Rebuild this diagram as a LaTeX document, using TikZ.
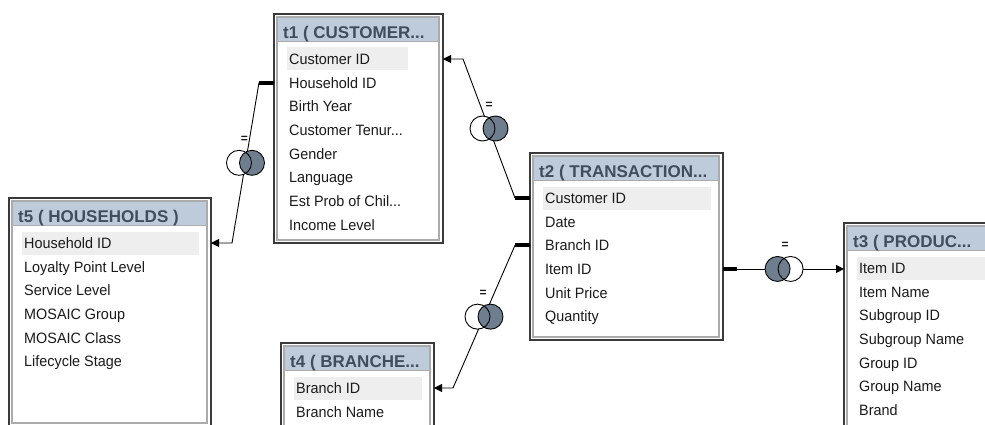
\documentclass[tikz,border=0pt]{standalone}
\usepackage{fontspec}
\setmainfont{Liberation Sans}
\newfontfamily\rowfont[FakeStretch=0.96]{Liberation Sans}
\usetikzlibrary{arrows.meta,calc}

\definecolor{framedark}{HTML}{3A3A3A}
\definecolor{framelight}{HTML}{ABABAB}
\definecolor{titlebg}{HTML}{BDCBDA}
\definecolor{titleink}{HTML}{3F4D5C}
\definecolor{rowhl}{HTML}{EEEEEE}
\definecolor{rowink}{HTML}{1A1A1A}
\definecolor{joinfill}{HTML}{6E7E8F}

% truncation mark for clipped names
\newcommand{\trail}{...}

\tikzset{
  tableframe/.style={rectangle, draw=framedark, line width=1.3pt, fill=white,
    inner sep=0pt, outer sep=0pt},
  titletext/.style={inner sep=0pt, text=titleink,
    font=\bfseries\fontsize{17}{20}\selectfont},
  rowtext/.style={inner sep=0pt, text=rowink,
    font=\rowfont\fontsize{15}{18}\selectfont},
  stub/.style={line width=4pt, black},
  link/.style={line width=0.9pt, black},
  linkarrow/.style={link, -{Triangle[length=8pt,width=8pt]}},
  eqlabel/.style={inner sep=0pt, text=black!90,
    font=\bfseries\fontsize{12}{12}\selectfont},
}

% table: id, left, top, right, bottom, highlight right edge, title, rows
\newcommand{\dbtable}[8]{%
  \node[tableframe, anchor=north west, minimum width={#4-#2},
        minimum height={#5-#3}] (#1) at (#2,#3) {};
  \draw[framelight, line width=1.5pt, fill=white] (#2+3,#3+3) rectangle (#4-4,#5-3);
  \fill[titlebg] (#2+3.8,#3+3.8) rectangle (#4-4.8,#3+27);
  \draw[framelight, line width=0.8pt] (#2+3,#3+27) -- (#4-4,#3+27);
  \fill[rowhl] (#2+12.5,#3+33.5) rectangle (#6,#3+56.5);
  \node[titletext, anchor=base west] (#1-title) at (#2+9,#3+24.2) {#7};
  \foreach \r [count=\i] in {#8} {
    \coordinate (#1-w\i) at (#2,{#3+45+23.65*(\i-1)});
    \coordinate (#1-e\i) at (#4,{#3+45+23.65*(\i-1)});
    \node[rowtext, anchor=base west] (#1-row\i) at (#2+15,{#3+50.5+23.65*(\i-1)}) {\r};
  }%
}

% join symbol: centre coordinate, side of the shaded circle (1 right, -1 left)
\newcommand{\joinicon}[2]{%
  \begin{scope}[shift={(#1)}]
    \fill[white] (-6.5*#2,0) circle[radius=12.5pt];
    \fill[joinfill] (6.5*#2,0) circle[radius=12.5pt];
    \draw[black, line width=0.9pt] (-6.5*#2,0) circle[radius=12.5pt];
    \draw[black, line width=0.9pt] (6.5*#2,0) circle[radius=12.5pt];
  \end{scope}%
}

\begin{document}
\begin{tikzpicture}[x=1pt,y=-1pt]
\useasboundingbox (0,0) rectangle (985,425);
\clip (0,0) rectangle (985,425);
\fill[white] (0,0) rectangle (985,425);

\dbtable{t1}{274}{14}{443}{243}{408}{t1 ( CUSTOMER\trail}%
  {Customer ID,Household ID,Birth Year,Customer Tenur\trail,Gender,Language,Est Prob of Chil\trail,Income Level}
\dbtable{t5}{9}{198}{211}{426}{199}{t5 ( HOUSEHOLDS )}%
  {Household ID,Loyalty Point Level,Service Level,MOSAIC Group,MOSAIC Class,Lifecycle Stage}
\dbtable{t2}{530}{153}{723}{340}{711}{t2 ( TRANSACTION\trail}%
  {Customer ID,Date,Branch ID,Item ID,Unit Price,Quantity}
\dbtable{t3}{844}{223}{1010}{470}{1000}{t3 ( PRODUC\trail}%
  {Item ID,Item Name,Subgroup ID,Subgroup Name,Group ID,Group Name,Brand}
\dbtable{t4}{281}{343}{434}{480}{422}{t4 ( BRANCHE\trail}%
  {Branch ID,Branch Name}

% t1 -> t5 on Household ID
\draw[stub] (t1-w2) -- ++(-15,0) coordinate (c1s);
\coordinate (c1b) at ($(t5-e1)+(21,0)$);
\draw[linkarrow] (c1s) -- (c1b) -- (t5-e1);
\path (c1s) -- coordinate[pos=0.5] (j1) (c1b);
\joinicon{j1}{1}
\node[eqlabel] (q1) at ($(j1)+(-1,-23.5)$) {=};

% t2 -> t1 on Customer ID
\draw[stub] (t2-w1) -- ++(-15,0) coordinate (c2s);
\coordinate (c2b) at ($(t1-e1)+(20,0)$);
\draw[linkarrow] (c2s) -- (c2b) -- (t1-e1);
\path (c2s) -- coordinate[pos=0.5] (j2) (c2b);
\joinicon{j2}{1}
\node[eqlabel] (q2) at ($(j2)+(0,-23.5)$) {=};

% t2 -> t4 on Branch ID
\draw[stub] (t2-w3) -- ++(-15,0) coordinate (c3s);
\coordinate (c3b) at ($(t4-e1)+(19,0)$);
\draw[linkarrow] (c3s) -- (c3b) -- (t4-e1);
\path (c3s) -- coordinate[pos=0.5] (j3) (c3b);
\joinicon{j3}{1}
\node[eqlabel] (q3) at ($(j3)+(-1,-23.5)$) {=};

% t2 -> t3 on Item ID
\draw[stub] (t2-e4) -- ++(14,0) coordinate (c4s);
\coordinate (c4e) at (t3-w1 |- c4s);
\draw[linkarrow] (c4s) -- (c4e);
\path (c4s) -- coordinate[pos=0.44] (j4) (c4e);
\joinicon{j4}{-1}
\node[eqlabel] (q4) at ($(j4)+(1,-24)$) {=};
\end{tikzpicture}
\end{document}
